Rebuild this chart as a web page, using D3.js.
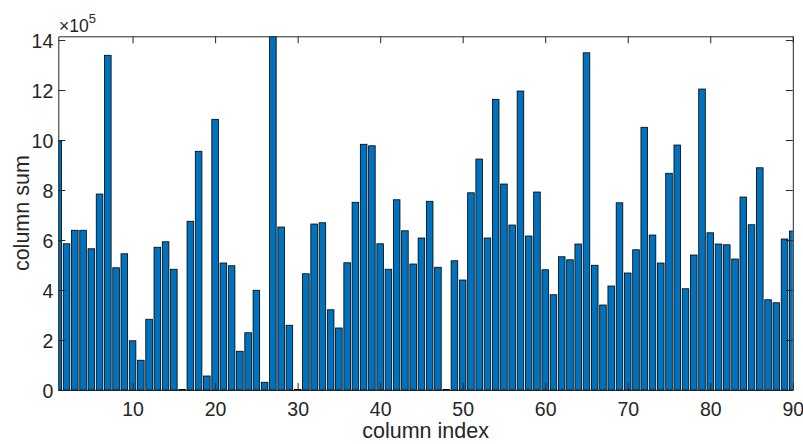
<!DOCTYPE html>
<html>
<head>
<meta charset="utf-8">
<script src="https://cdn.jsdelivr.net/npm/d3@7/dist/d3.min.js"></script>
<style>
  html, body { margin: 0; padding: 0; background: #fff; }
  svg { display: block; }
  text { font-family: "Liberation Sans", Arial, Helvetica, sans-serif; fill: #262626; }
</style>
</head>
<body>
<svg id="chart" width="803" height="444"></svg>
<script>
// ---- data ----
const columnIndex = d3.range(1, 91);
const columnSum = [
  9.96e5, 5.85e5, 6.39e5, 6.39e5, 5.65e5, 7.84e5, 13.39e5, 4.89e5, 5.45e5, 1.97e5,
  1.19e5, 2.83e5, 5.71e5, 5.93e5, 4.83e5, 0.02e5, 6.75e5, 9.55e5, 0.56e5, 10.83e5,
  5.08e5, 4.97e5, 1.55e5, 2.29e5, 3.99e5, 0.31e5, 14.40e5, 6.52e5, 2.59e5, 0.02e5,
  4.65e5, 6.64e5, 6.69e5, 3.21e5, 2.48e5, 5.09e5, 7.51e5, 9.83e5, 9.77e5, 5.85e5,
  4.83e5, 7.61e5, 6.37e5, 5.04e5, 6.08e5, 7.55e5, 4.91e5, 0.02e5, 5.17e5, 4.40e5,
  7.89e5, 9.24e5, 6.08e5, 11.63e5, 8.24e5, 6.60e5, 11.96e5, 6.16e5, 7.92e5, 4.81e5,
  3.81e5, 5.33e5, 5.21e5, 5.84e5, 13.49e5, 4.99e5, 3.40e5, 4.16e5, 7.49e5, 4.68e5,
  5.61e5, 10.51e5, 6.20e5, 5.08e5, 8.67e5, 9.80e5, 4.05e5, 5.40e5, 12.04e5, 6.29e5,
  5.84e5, 5.81e5, 5.24e5, 7.72e5, 6.61e5, 8.89e5, 3.61e5, 3.49e5, 6.04e5, 6.36e5
];
const xTicks = [10, 20, 30, 40, 50, 60, 70, 80, 90];
const yTicks = [0, 2e5, 4e5, 6e5, 8e5, 10e5, 12e5, 14e5];
const xDomain = [1, 90];
const yDomain = [0, 14.15e5];
const xLabel = "column index";
const yLabel = "column sum";
const barWidth = 0.8;

// ---- layout ----
const svg = d3.select("#chart");
const L = 58.3, R = 792.8, T = 36.3, B = 390;
const x = d3.scaleLinear().domain(xDomain).range([L, R]);
const y = d3.scaleLinear().domain(yDomain).range([B, T]);
const axisColor = "#262626";
const tickFont = 19.5;

svg.append("defs").append("clipPath").attr("id", "plotclip")
  .append("rect").attr("x", L).attr("y", T).attr("width", R - L).attr("height", B - T);

const bars = svg.append("g").attr("clip-path", "url(#plotclip)");
bars.selectAll("rect").data(columnIndex).join("rect")
  .attr("x", d => x(d - barWidth / 2))
  .attr("width", d => x(d + barWidth / 2) - x(d - barWidth / 2))
  .attr("y", (d, i) => y(columnSum[i]))
  .attr("height", (d, i) => y(0) - y(columnSum[i]))
  .attr("fill", "#0072BD")
  .attr("stroke", "#000")
  .attr("stroke-width", 0.8);

// ---- axes ----
const tickLen = 7;
const gB = svg.append("g").attr("transform", `translate(0,${B})`)
  .call(d3.axisBottom(x).tickValues(xTicks).tickSizeInner(-tickLen).tickSizeOuter(0).tickPadding(12).tickFormat(d3.format("d")));
const gT = svg.append("g").attr("transform", `translate(0,${T})`)
  .call(d3.axisTop(x).tickValues(xTicks).tickSizeInner(-tickLen).tickSizeOuter(0).tickFormat(""));
const gL = svg.append("g").attr("transform", `translate(${L},0)`)
  .call(d3.axisLeft(y).tickValues(yTicks).tickSizeInner(-tickLen).tickSizeOuter(0).tickPadding(5).tickFormat(d => d3.format("d")(d / 1e5)));
const gR = svg.append("g").attr("transform", `translate(${R},0)`)
  .call(d3.axisRight(y).tickValues(yTicks).tickSizeInner(-tickLen).tickSizeOuter(0).tickFormat(""));

[gB, gT, gL, gR].forEach(g => {
  g.select(".domain").attr("stroke", axisColor).attr("stroke-width", 1);
  g.selectAll(".tick line").attr("stroke", axisColor).attr("stroke-width", 1);
  g.selectAll(".tick text").attr("fill", axisColor)
    .style("font-size", tickFont + "px")
    .style("font-family", '"Liberation Sans", Arial, Helvetica, sans-serif');
});
gL.selectAll(".tick text").attr("dy", "0.36em");

// exponent label
const ex = svg.append("text").attr("x", 59).attr("y", 31.5).style("font-size", "17.5px");
ex.append("tspan").text("\u00d710");
ex.append("tspan").attr("dy", -8.5).style("font-size", "13px").text("5");

// axis labels
svg.append("text").attr("x", (L + R) / 2).attr("y", 438)
  .attr("text-anchor", "middle").style("font-size", "21.5px").text(xLabel);
svg.append("text")
  .attr("transform", `translate(29,${(T + B) / 2}) rotate(-90)`)
  .attr("text-anchor", "middle").style("font-size", "21.5px").text(yLabel);
</script>
</body>
</html>
